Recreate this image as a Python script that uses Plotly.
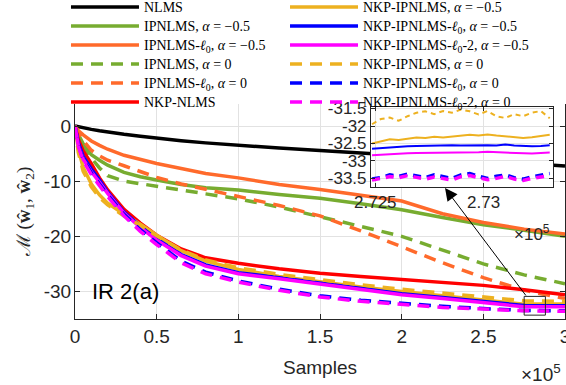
import plotly.graph_objects as go

# ---------------- data ----------------
samples = [0, 2000, 5000, 10000, 15000, 20000, 30000, 40000, 50000, 65000, 80000,
           100000, 125000, 150000, 175000, 200000, 225000, 250000, 275000, 300000]

nlms = [0, -0.15, -0.35, -0.6, -0.85, -1.1, -1.5, -1.85, -2.2, -2.65, -3.05,
        -3.5, -4.0, -4.45, -4.85, -5.3, -5.8, -6.25, -6.75, -7.25]
ipnlms_m05 = [0, -1.5, -3.2, -5.2, -6.2, -7.1, -8.4, -9.2, -9.8, -10.6, -11.2,
              -11.6, -12.4, -13.1, -14.1, -15.2, -16.6, -17.9, -18.9, -20.0]
ipnlms_l0_m05 = [0, -0.8, -1.6, -2.7, -3.5, -4.2, -5.3, -6.1, -6.8, -7.7, -8.6,
                 -9.4, -10.6, -11.5, -12.5, -13.6, -15.9, -17.5, -18.7, -19.6]
ipnlms_0 = [0, -1.8, -3.6, -5.8, -7.6, -9.0, -10.0, -10.5, -11.0, -11.6, -12.3,
            -13.2, -14.7, -16.4, -18.2, -20.0, -22.5, -25.0, -27.0, -28.6]
ipnlms_l0_0 = [0, -1.2, -2.6, -4.4, -5.4, -6.2, -7.2, -8.3, -9.3, -10.5, -11.5,
               -12.7, -14.4, -16.3, -19.0, -21.9, -24.8, -27.5, -29.8, -31.3]
nkp_nlms = [0, -2.4, -4.5, -6.8, -9.4, -11.6, -15.1, -17.6, -19.8, -22.3, -23.9,
            -24.9, -25.9, -26.7, -27.3, -27.8, -28.3, -28.9, -29.7, -30.6]
nkp_ipnlms_m05 = [0, -4.2, -7.5, -10.5, -12.5, -14.0, -16.0, -17.8, -19.8, -22.6, -24.5,
                  -26.0, -27.3, -28.3, -29.2, -30.0, -30.8, -31.5, -32.3, -32.3]
nkp_ipnlms_l0_m05 = [0, -3.0, -5.5, -7.8, -9.8, -12.0, -15.6, -18.2, -20.5, -23.3, -25.2,
                     -26.6, -27.5, -28.5, -29.5, -30.4, -31.1, -31.8, -32.55, -32.6]
nkp_ipnlms_l02_m05 = [0, -3.5, -6.0, -8.3, -10.2, -12.2, -15.8, -18.4, -20.7, -23.5, -25.4,
                      -26.8, -27.7, -28.7, -29.7, -30.6, -31.3, -32.0, -32.78, -32.8]
nkp_ipnlms_0 = [0, -4.8, -8.2, -11.0, -13.0, -14.3, -16.3, -18.0, -19.9, -22.5, -24.3,
                -25.7, -26.9, -27.9, -28.8, -29.6, -30.3, -31.0, -31.7, -31.8]
nkp_ipnlms_l0_0 = [0, -3.5, -6.0, -8.5, -10.5, -12.5, -16.0, -18.8, -21.2, -24.5, -26.5,
                   -28.1, -29.6, -30.8, -31.6, -32.2, -32.7, -33.1, -33.45, -33.5]
nkp_ipnlms_l02_0 = [0, -3.7, -6.3, -8.8, -10.8, -12.8, -16.3, -19.1, -21.5, -24.8, -26.8,
                    -28.3, -29.8, -31.0, -31.8, -32.4, -32.9, -33.2, -33.5, -33.6]

# zoomed detail (inset)
inset_samples = [272485, 272526, 272567, 272608, 272649, 272690, 272731, 272772, 272813,
                 272854, 272895, 272936, 272977, 273018, 273059, 273100, 273141, 273182,
                 273223, 273264, 273305]
inset_nkp_ipnlms_0 = [-31.95, -31.80, -31.76, -31.85, -31.72, -31.62, -31.58, -31.66, -31.57,
                      -31.62, -31.53, -31.58, -31.67, -31.57, -31.72, -31.77, -31.66, -31.72,
                      -31.62, -31.57, -31.78]
inset_nkp_ipnlms_m05 = [-32.50, -32.45, -32.38, -32.40, -32.36, -32.33, -32.34, -32.31, -32.33,
                        -32.30, -32.28, -32.25, -32.27, -32.24, -32.27, -32.30, -32.33, -32.34,
                        -32.32, -32.28, -32.25]
inset_nkp_ipnlms_l0_m05 = [-32.65, -32.63, -32.60, -32.59, -32.58, -32.57, -32.56, -32.57, -32.56,
                           -32.55, -32.56, -32.55, -32.56, -32.55, -32.56, -32.53, -32.56, -32.58,
                           -32.58, -32.57, -32.55]
inset_nkp_ipnlms_l02_m05 = [-32.84, -32.82, -32.80, -32.79, -32.78, -32.77, -32.77, -32.76, -32.77,
                            -32.76, -32.75, -32.76, -32.75, -32.74, -32.75, -32.76, -32.78, -32.80,
                            -32.79, -32.77, -32.76]
inset_nkp_ipnlms_l0_0 = [-33.52, -33.48, -33.40, -33.44, -33.38, -33.42, -33.48, -33.40, -33.46,
                         -33.50, -33.40, -33.36, -33.44, -33.50, -33.44, -33.40, -33.48, -33.52,
                         -33.46, -33.40, -33.36]
inset_nkp_ipnlms_l02_0 = [-33.55, -33.50, -33.45, -33.48, -33.42, -33.47, -33.52, -33.46, -33.50,
                          -33.55, -33.45, -33.42, -33.48, -33.54, -33.50, -33.44, -33.52, -33.56,
                          -33.50, -33.45, -33.42]

x_tickvals = [0, 50000, 100000, 150000, 200000, 250000, 300000]
x_ticktext = ["0", "0.5", "1", "1.5", "2", "2.5", "3"]
y_tickvals = [-30, -20, -10, 0]
y_ticktext = ["-30", "-20", "-10", "0"]
inset_x_tickvals = [272500, 273000]
inset_x_ticktext = ["2.725", "2.73"]
inset_y_tickvals = [-33.5, -33, -32.5, -32, -31.5]
inset_y_ticktext = ["-33.5", "-33", "-32.5", "-32", "-31.5"]

# ---------------- style ----------------
BLACK = "#000000"
GREEN = "#77AC30"
ORANGE = "#FF6A2B"
RED = "#FF0000"
YELLOW = "#EDB120"
BLUE = "#0000FF"
MAGENTA = "#FF00FF"
AX = "#262626"
GRID = "#e2e2e2"
DASH = "12px,8px"
LW = 3.5

def lbl(t):
    return '<span style="font-size:14px">' + t + '</span>'

L0 = "<i>ℓ</i><sub>0</sub>"
A = "<i>α</i>"

series = [
    ("NLMS", nlms, BLACK, "solid", "legend"),
    ("IPNLMS, " + A + " = −0.5", ipnlms_m05, GREEN, "solid", "legend"),
    ("IPNLMS-" + L0 + ", " + A + " = −0.5", ipnlms_l0_m05, ORANGE, "solid", "legend"),
    ("IPNLMS, " + A + " = 0", ipnlms_0, GREEN, DASH, "legend"),
    ("IPNLMS-" + L0 + ", " + A + " = 0", ipnlms_l0_0, ORANGE, DASH, "legend"),
    ("NKP-NLMS", nkp_nlms, RED, "solid", "legend"),
    ("NKP-IPNLMS, " + A + " = −0.5", nkp_ipnlms_m05, YELLOW, "solid", "legend2"),
    ("NKP-IPNLMS-" + L0 + ", " + A + " = −0.5", nkp_ipnlms_l0_m05, BLUE, "solid", "legend2"),
    ("NKP-IPNLMS-" + L0 + "-2, " + A + " = −0.5", nkp_ipnlms_l02_m05, MAGENTA, "solid", "legend2"),
    ("NKP-IPNLMS, " + A + " = 0", nkp_ipnlms_0, YELLOW, DASH, "legend2"),
    ("NKP-IPNLMS-" + L0 + ", " + A + " = 0", nkp_ipnlms_l0_0, BLUE, DASH, "legend2"),
    ("NKP-IPNLMS-" + L0 + "-2, " + A + " = 0", nkp_ipnlms_l02_0, MAGENTA, DASH, "legend2"),
]

fig = go.Figure()
for name, ys, col, dash, leg in series:
    fig.add_trace(go.Scatter(x=samples, y=ys, mode="lines", name=lbl(name), legend=leg,
                             line=dict(color=col, width=LW, dash=dash)))

inset_series = [
    (inset_nkp_ipnlms_m05, YELLOW, "solid", 2),
    (inset_nkp_ipnlms_l0_m05, BLUE, "solid", 2),
    (inset_nkp_ipnlms_l02_m05, MAGENTA, "solid", 2),
    (inset_nkp_ipnlms_0, YELLOW, "5px,4px", 2),
    (inset_nkp_ipnlms_l0_0, BLUE, "8px,6px", 3.5),
    (inset_nkp_ipnlms_l02_0, MAGENTA, "8px,6px", 3.5),
]
for ys, col, dash, w in inset_series:
    fig.add_trace(go.Scatter(x=inset_samples, y=ys, mode="lines", xaxis="x2", yaxis="y2",
                             showlegend=False, line=dict(color=col, width=w, dash=dash)))

tickfont = dict(family="Liberation Sans, Arial, sans-serif", size=19, color=AX)
insetfont = dict(family="Liberation Sans, Arial, sans-serif", size=17, color=AX)
legfont = dict(family="Liberation Serif, serif", size=12.3, color="black")

fig.update_layout(
    width=566, height=385,
    margin=dict(l=75, r=1, t=104, b=66, autoexpand=False),
    paper_bgcolor="white", plot_bgcolor="white",
    xaxis=dict(range=[0, 300000], tickvals=x_tickvals, ticktext=x_ticktext,
               showline=True, linecolor=AX, linewidth=1, mirror=False,
               ticks="inside", ticklen=5, tickcolor=AX,
               showgrid=True, gridcolor=GRID, zeroline=False, tickfont=tickfont,
               ticklabelstandoff=0, ticklabeloverflow="allow",
               title=dict(text="Samples", font=tickfont, standoff=14)),
    yaxis=dict(range=[-35, 4], tickvals=y_tickvals, ticktext=y_ticktext,
               showline=True, linecolor=AX, linewidth=1, mirror="ticks",
               ticks="inside", ticklen=5, tickcolor=AX,
               showgrid=True, gridcolor=GRID, zeroline=False, tickfont=tickfont,
               ticklabelstandoff=-1,
               title=dict(text="ℳ (<b>ŵ</b><sub>1</sub>, <b>ŵ</b><sub>2</sub>)",
                          font=dict(family="Liberation Serif, serif", size=19, color=AX),
                          standoff=8)),
    xaxis2=dict(domain=[0.604, 0.9755], anchor="y2", range=[272480, 273320],
                tickvals=inset_x_tickvals, ticktext=inset_x_ticktext,
                showline=True, linecolor=AX, linewidth=1, mirror="ticks",
                ticks="inside", ticklen=4, tickcolor=AX,
                showgrid=True, gridcolor=GRID, zeroline=False, tickfont=insetfont),
    yaxis2=dict(domain=[0.615, 0.987], anchor="x2", range=[-33.74, -31.45],
                tickvals=inset_y_tickvals, ticktext=inset_y_ticktext,
                showline=True, linecolor=AX, linewidth=1, mirror="ticks",
                ticks="inside", ticklen=4, tickcolor=AX,
                showgrid=True, gridcolor=GRID, zeroline=False, tickfont=insetfont),
    legend=dict(x=-0.0184, xanchor="left", y=1.5186, yanchor="top",
                bgcolor="rgba(255,255,255,0)", borderwidth=0, itemwidth=68,
                font=legfont, tracegroupgap=0),
    legend2=dict(x=0.4286, xanchor="left", y=1.5186, yanchor="top",
                 bgcolor="rgba(255,255,255,0)", borderwidth=0, itemwidth=68,
                 font=legfont, tracegroupgap=0),
    shapes=[dict(type="rect", xref="x", yref="y", x0=275000, x1=288000, y0=-34.3, y1=-30.9,
                 line=dict(color=AX, width=1), layer="above")],
    annotations=[
        dict(x=226530, y=-11.25, xref="x", yref="y", ax=276735, ay=-31.0, axref="x", ayref="y",
             text="", showarrow=True, arrowhead=2, arrowsize=2.5, arrowwidth=1, arrowcolor="black"),
        dict(x=0.03, y=-30, xref="paper", yref="y", xanchor="left", yanchor="middle",
             text="IR 2(a)", showarrow=False,
             font=dict(family="Liberation Sans, Arial, sans-serif", size=22, color="black")),
        dict(x=0.996, y=-0.25, xref="paper", yref="paper", xanchor="right", yanchor="middle",
             text="×10<sup>5</sup>", showarrow=False, font=tickfont),
        dict(x=0.973, y=0.40, xref="paper", yref="paper", xanchor="right", yanchor="middle",
             text="×10<sup>5</sup>", showarrow=False, font=insetfont),
    ],
)

fig.write_html("out.html", config={"displayModeBar": False},
               post_script="document.body.style.margin='0';document.body.style.overflow='hidden';")
